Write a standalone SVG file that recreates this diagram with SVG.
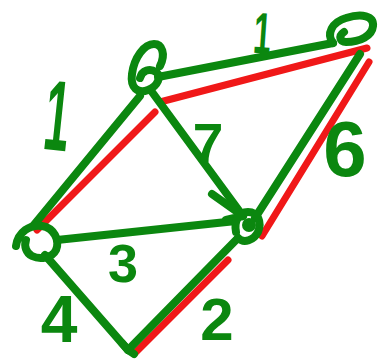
<svg xmlns="http://www.w3.org/2000/svg" width="380" height="361" viewBox="0 0 380 361">
<style>
.g{stroke:#0b870f;stroke-width:8;fill:none;stroke-linecap:round;stroke-linejoin:round}
.r{stroke:#f01818;stroke-width:7;fill:none;stroke-linecap:round}
.t{fill:#0b870f;font-family:"Liberation Sans",Arial,sans-serif;font-weight:bold;text-anchor:middle}
</style>
<rect width="380" height="361" fill="#ffffff"/>
<g id="connectors">
<path class="r" d="M37,230 L155,112"/>
<path class="r" d="M160,102 L367,48"/>
<path class="r" d="M369,62 L262,236"/>
<path class="r" d="M134,354 L228,260"/>
<path class="g" d="M33,226 L140,96"/>
<path class="g" d="M158,77 L333,43"/>
<path class="g" d="M360,54 L255,218"/>
<path class="g" d="M152,92 L243,216"/>
<path class="g" d="M212,194 L243,216 L226,220"/>
<path class="g" d="M57,240 L236,221"/>
<path class="g" d="M45,255 L128,350"/>
<path class="g" d="M128,350 L238,238"/>
</g>
<g id="nodeA"><path class="g" d="M16,246 C18,232 30,224 42,226 C54,228 60,240 56,250 C52,258 40,260 32,256 C26,253 24,246 26,240"/></g>
<g id="nodeB"><path class="g" d="M160,66 C166,54 162,44 154,44 C144,44 134,58 132,74 C130,88 138,94 148,90 C158,86 162,76 156,72 C150,68 142,70 140,78"/></g>
<g id="nodeC"><path class="g" d="M333,43 C326,34 332,22 346,18 C362,13 374,16 373,26 C372,36 360,42 346,42 C340,42 338,36 344,32"/></g>
<g id="nodeD"><path class="g" d="M236,232 C234,222 238,212 248,212 C258,212 262,222 258,232 C254,240 244,244 238,238" /><circle cx="249" cy="225" r="7" fill="#0b870f"/></g>
<g id="nodeE"><path class="g" d="M122,343 L128,350 L134,354"/></g>
<g id="labels">
<text class="t" x="0" y="0" font-size="100" transform="translate(54,150) rotate(6) scale(0.45,1)">1</text>
<text class="t" x="0" y="0" font-size="58" transform="translate(261,53) rotate(4) scale(0.55,1)">1</text>
<text class="t" x="208" y="162" font-size="55">7</text>
<text class="t" x="123" y="282" font-size="54">3</text>
<text class="t" x="59" y="342" font-size="66">4</text>
<text class="t" x="217" y="340" font-size="60">2</text>
<text class="t" x="345" y="176" font-size="78">6</text>
</g>
</svg>
